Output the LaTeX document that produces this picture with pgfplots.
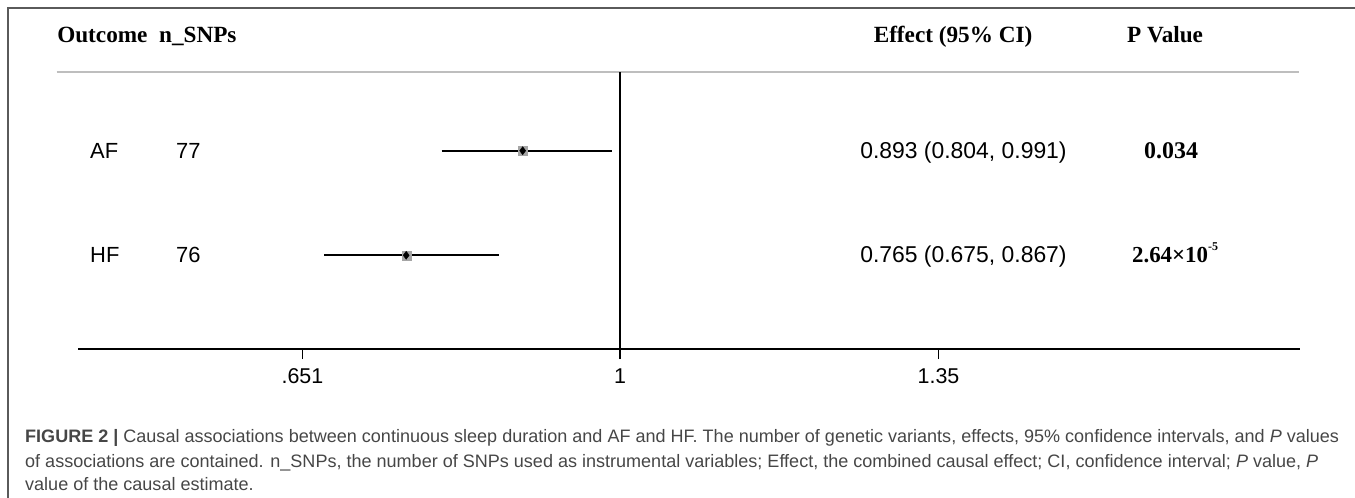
\documentclass[border=0pt]{standalone}
\usepackage{pgfplots}
\pgfplotsset{compat=1.18}
\usepackage{fontspec}
\setmainfont{Liberation Sans}
\newfontfamily\tnr{Liberation Serif}
\definecolor{capgray}{RGB}{70,70,70}
\definecolor{frame}{RGB}{90,90,90}
\definecolor{sep}{RGB}{190,190,190}
\definecolor{boxgray}{RGB}{165,165,165}

\pgfplotstableread{
est lo hi y
0.893 0.804 0.991 198.3
0.765 0.675 0.867 93.7
}\mrdata

\begin{document}
\begin{tikzpicture}
\path[use as bounding box] (0,0) rectangle (1355bp,498bp);
\draw[frame, line width=1.5bp] (8bp,0) -- (8bp,490bp) -- (1356bp,490bp);
\begin{axis}[
  at={(78bp,149bp)}, anchor=south west,
  scale only axis, width=1222bp, height=277bp,
  xmin=0.4043, xmax=1.7473, ymin=0, ymax=277,
  axis x line=bottom, axis y line=none,
  axis line style={line width=2bp,-},
  xtick={0.651,1,1.35}, xticklabels={.651,1,1.35},
  tick style={line width=1.5bp, black},
  major tick length=10bp, tick align=outside,
  xticklabel style={font=\fontsize{21.5}{25}\selectfont, yshift=-6bp},
  /pgf/number format/assume math mode=true,
  clip=false,
]
% separator line
\addplot[sep, line width=2.2bp] coordinates {(0.3807,277) (1.7458,277)};
% null line
\addplot[black, line width=2bp] coordinates {(1,0) (1,277)};
% confidence intervals
\addplot[black, line width=2bp] coordinates {(0.804,198.3) (0.991,198.3)};
\addplot[black, line width=2bp] coordinates {(0.675,93.7) (0.867,93.7)};
% estimates
\addplot[only marks, mark=square*, mark size=4.5bp, boxgray, mark options={draw=boxgray, fill=boxgray}] table[x=est, y=y] {\mrdata};
\addplot[only marks, mark=diamond*, mark size=4bp, black] table[x=est, y=y] {\mrdata};

% headers
\node[anchor=base west, font=\tnr\bfseries\fontsize{23.3}{27}\selectfont, inner sep=0] at (axis cs:0.3813,306) {Outcome\ \ n\_SNPs};
\node[anchor=base, font=\tnr\bfseries\fontsize{23.3}{27}\selectfont, inner sep=0] at (axis cs:1.3660,306) {Effect (95\% CI)};
\node[anchor=base, font=\tnr\bfseries\fontsize{23.3}{27}\selectfont, inner sep=0] at (axis cs:1.5990,306) {P Value};

% rows
\begin{scope}[every node/.style={inner sep=0, font=\fontsize{22}{26}\selectfont}]
\node[anchor=base west] at (axis cs:0.4175,190) {AF};
\node[anchor=base west] at (axis cs:0.5120,190) {77};
\node[anchor=base west] at (axis cs:0.4175,86) {HF};
\node[anchor=base west] at (axis cs:0.5120,86) {76};
\end{scope}
\begin{scope}[every node/.style={inner sep=0, font=\fontsize{23}{27}\selectfont}]
\node[anchor=base west] at (axis cs:1.2638,190) {0.893 (0.804, 0.991)};
\node[anchor=base west] at (axis cs:1.2638,86) {0.765 (0.675, 0.867)};
\end{scope}
\node[anchor=base, inner sep=0, font=\tnr\bfseries\fontsize{24}{28}\selectfont] at (axis cs:1.6056,190) {0.034};
\node[anchor=base, inner sep=0, font=\tnr\bfseries\fontsize{23}{27}\selectfont] at (axis cs:1.6100,86) {2.64×10\raisebox{0.55em}{\fontsize{12}{13}\selectfont -5}};
\end{axis}

% caption
\begin{scope}[every node/.style={anchor=base west, inner sep=0, text=capgray, font=\fontsize{18.1}{21}\selectfont}]
\node at (25bp,55bp) {{\bfseries FIGURE 2 |} Causal associations between continuous sleep duration and AF and HF. The number of genetic variants, effects, 95\% confidence intervals, and \emph{P} values};
\node at (25bp,31bp) {of associations are contained. n\_SNPs, the number of SNPs used as instrumental variables; Effect, the combined causal effect; CI, confidence interval; \emph{P} value, \emph{P}};
\node at (25bp,8bp) {value of the causal estimate.};
\end{scope}
\end{tikzpicture}
\end{document}
